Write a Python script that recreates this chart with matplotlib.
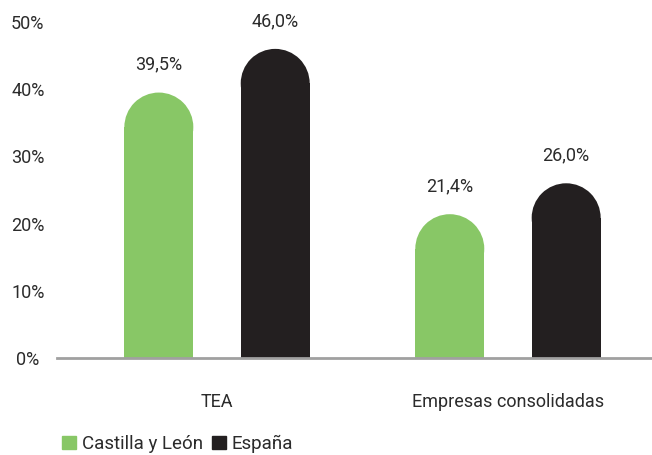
import matplotlib.pyplot as plt
from matplotlib.patches import Ellipse, Rectangle, Patch
from matplotlib import font_manager

# data
categories = ['TEA', 'Empresas consolidadas']
series_names = ['Castilla y León', 'España']
castilla = [39.5, 21.4]
espana = [46.0, 26.0]
yticks = [0, 10, 20, 30, 40, 50]

GREEN = '#88c766'
BLACK = '#231f20'
TEXT = '#2b2b2b'

names = {f.name for f in font_manager.fontManager.ttflist}
family = 'Liberation Sans Narrow' if 'Liberation Sans Narrow' in names else 'Roboto'
plt.rcParams['font.family'] = [family, 'DejaVu Sans']

fig = plt.figure(figsize=(6.52, 4.55), dpi=100)
ax = fig.add_axes([57 / 652, 97 / 455, 595 / 652, 336 / 455])
ax.set_xlim(-0.55, 1.495)
ax.set_ylim(0, 50)

width = 0.237
offset = 0.2

# pixels per data unit to get round caps
fig.canvas.draw()
p0 = ax.transData.transform((0, 0))
p1 = ax.transData.transform((1, 1))
px_x = p1[0] - p0[0]
px_y = p1[1] - p0[1]
r_y = (width * px_x / 2) / px_y

def rounded_bar(x, h, color):
    ax.add_patch(Rectangle((x - width / 2, 0), width, h - r_y, color=color, lw=0))
    ax.add_patch(Ellipse((x, h - r_y), width, 2 * r_y, color=color, lw=0))
    ax.annotate(f'{h:.1f}%'.replace('.', ','), (x, h), xytext=(0, 20),
                textcoords='offset points', ha='center', va='center',
                fontsize=13, color=TEXT, annotation_clip=False)

for i in range(len(categories)):
    rounded_bar(i - offset, castilla[i], GREEN)
    rounded_bar(i + offset, espana[i], BLACK)

for s in ['top', 'right', 'left']:
    ax.spines[s].set_visible(False)
ax.spines['bottom'].set_color('#a0a0a0')
ax.spines['bottom'].set_linewidth(2)

ax.set_yticks(yticks)
ax.set_yticklabels([f'{t}%' for t in yticks], fontsize=13, color=TEXT, ha='center')
ax.tick_params(axis='y', length=0, pad=21)
ax.set_xticks(range(len(categories)))
ax.set_xticklabels(categories, fontsize=13, color=TEXT)
ax.tick_params(axis='x', length=0, pad=25)

handles = [Patch(color=GREEN, label=series_names[0]), Patch(color=BLACK, label=series_names[1])]
fig.legend(handles=handles, loc='center left', bbox_to_anchor=(62 / 652, 11 / 455),
           ncol=2, frameon=False, fontsize=13.5, handlelength=0.75, handleheight=0.75,
           handletextpad=0.3, columnspacing=0.5, borderaxespad=0, borderpad=0,
           labelcolor=TEXT)

fig.savefig('out.png', dpi=100)
